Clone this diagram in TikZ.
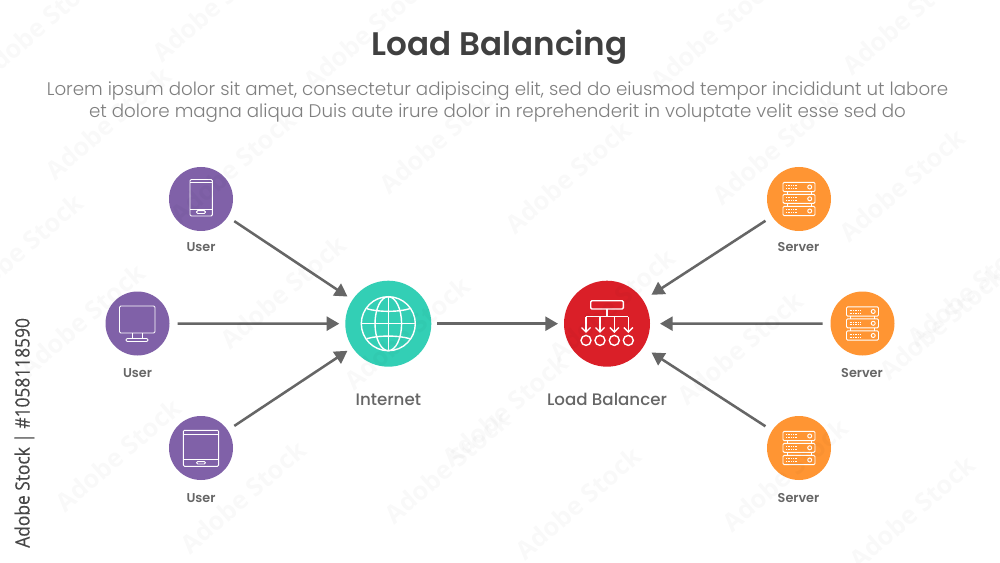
\documentclass[tikz,border=0pt]{standalone}
\usepackage{fontspec}
\setmainfont{Poppins}
\newfontfamily\poplight{Poppins Light}
\newfontfamily\popmed{Poppins Medium}
\newfontfamily\popsemi{Poppins SemiBold}
\newfontfamily\stockfont{Open Sans}
\newfontfamily\stockslim[FakeStretch=0.88,FakeBold=0.25]{Open Sans}
\usetikzlibrary{arrows.meta}
\definecolor{userpurple}{HTML}{8061A8}
\definecolor{netgreen}{HTML}{33CFB5}
\definecolor{lbred}{HTML}{DA1F28}
\definecolor{servorange}{HTML}{FF9533}
\definecolor{linegrey}{HTML}{666666}
\definecolor{bodygrey}{HTML}{7F7F7F}
\tikzset{
  x=0.75pt,y=-0.75pt,
  smallcirc/.style={circle,inner sep=0pt,minimum size=48pt,outer sep=6pt},
  bigcirc/.style={circle,inner sep=0pt,minimum size=64.5pt,outer sep=4.5pt},
  usercirc/.style={smallcirc,fill=userpurple},
  servcirc/.style={smallcirc,fill=servorange},
  smalllabel/.style={anchor=base,text=linegrey,inner sep=0pt,font=\popsemi\fontsize{9.6}{12}\selectfont},
  biglabel/.style={anchor=base,text=linegrey,inner sep=0pt,font=\popmed\fontsize{12.5}{15}\selectfont},
  bodytext/.style={anchor=base,text=bodygrey,inner sep=0pt,font=\poplight\fontsize{13.68}{17}\selectfont},
  flow/.style={draw=linegrey,line width=1.9pt,-{Triangle[length=9.5pt,width=10.5pt]}},
  flowback/.style={flow,shorten >=3pt},
  thinicon/.style={draw=white,line width=0.7pt,rounded corners=0.9pt},
  fatticon/.style={draw=white,line width=1.05pt,rounded corners=0.9pt},
  watermark/.style={text=black,opacity=0.025,rotate=41,inner sep=0pt,font=\stockfont\bfseries\fontsize{19}{23}\selectfont},
  phoneicon/.pic={
    \draw[thinicon] (-11,-19.5) rectangle (11.3,17);
    \draw[thinicon] (-11,-16.5) -- (11.3,-16.5) (-11,10.5) -- (11.3,10.5);
    \draw[thinicon] (-4.5,11.7) rectangle (4.5,14.5);
  },
  monitoricon/.pic={
    \draw[thinicon] (-18,-17.5) rectangle (17.5,9.5);
    \draw[thinicon] (-5,9.5) -- (-5,15) (4.5,9.5) -- (4.5,15);
    \draw[thinicon] (-11.5,15) rectangle (10.5,18);
  },
  tableticon/.pic={
    \draw[thinicon] (-17.7,-17.7) rectangle (17.7,18.3);
    \draw[thinicon] (-17.7,-13.5) -- (17.7,-13.5) (-17.7,11.3) -- (17.7,11.3);
    \draw[thinicon] (-4.5,13.6) rectangle (4.5,16);
  },
  servericon/.pic={
    \foreach \yt/\yb in {-16.7/-7.3,-4.7/4.3,7.3/16.7}{
      \draw[thinicon] (-16,\yt) rectangle (16,\yb);
      \draw[thinicon] (10.7,{(\yt+\yb)/2}) circle[radius=2];
      \draw[white,line width=0.4pt,dash pattern=on 0.6pt off 0.7pt] (-13,{(\yt+\yb)/2-1.3}) -- (-1,{(\yt+\yb)/2-1.3}) (-13,{(\yt+\yb)/2+1.3}) -- (-1,{(\yt+\yb)/2+1.3});
    }
    \draw[thinicon] (-12,-7.3) -- (-12,-4.7) (12,-7.3) -- (12,-4.7) (-12,4.3) -- (-12,7.3) (12,4.3) -- (12,7.3);
  },
  globeicon/.pic={
    \draw[fatticon,rounded corners=0pt] (0,0) circle[radius=27];
    \draw[fatticon,rounded corners=0pt] (0,0) ellipse[x radius=13.3,y radius=27];
    \draw[fatticon,rounded corners=0pt] (0,-27) -- (0,27) (-27,0) -- (27,0);
    \draw[fatticon,rounded corners=0pt] (-21.5,-15) .. controls (-10,-11.5) and (10,-11.5) .. (21.5,-15);
    \draw[fatticon,rounded corners=0pt] (-21.5,15) .. controls (-10,11.5) and (10,11.5) .. (21.5,15);
  },
  lbicon/.pic={
    \draw[fatticon] (-16.3,-23) rectangle (16.3,-14.7);
    \draw[fatticon,rounded corners=0pt] (0,-14.7) -- (0,-7);
    \draw[fatticon,rounded corners=0pt] (-21,-7) -- (21.3,-7);
    \foreach \xa in {-21,-7,7.3,21.3}{
      \draw[fatticon,rounded corners=0pt] (\xa,-7) -- (\xa,8.3);
      \draw[fatticon,rounded corners=0pt] (\xa-4.5,3.8) -- (\xa,8.3) -- (\xa+4.5,3.8);
      \draw[fatticon,rounded corners=0pt] (\xa,16.7) circle[radius=5];
    }
  },
}
\begin{document}
\begin{tikzpicture}
\useasboundingbox (0,0) rectangle (1000,563);
\fill[white] (0,0) rectangle (1000,563);
% nodes
\node[usercirc] (u1) at (201,199) {};
\node[usercirc] (u2) at (137.5,323.5) {};
\node[usercirc] (u3) at (201,448) {};
\node[servcirc] (s1) at (799,199) {};
\node[servcirc] (s2) at (862.5,323.5) {};
\node[servcirc] (s3) at (799,448) {};
\node[bigcirc,fill=netgreen] (net) at (388.3,323.7) {};
\node[bigcirc,fill=lbred] (lb) at (607,323.7) {};
% icons
\pic at (u1) {phoneicon};
\pic at (u2) {monitoricon};
\pic at (u3) {tableticon};
\pic at (s1) {servericon};
\pic at (s2) {servericon};
\pic at (s3) {servericon};
\pic at (net) {globeicon};
\pic at (lb) {lbicon};
% connectors
\draw[flow] (u1) -- (net);
\draw[flow] (u2) -- (net);
\draw[flow] (u3) -- (net);
\draw[flow] (net) -- (lb);
\draw[flowback] (s1) -- (lb);
\draw[flowback] (s2) -- (lb);
\draw[flowback] (s3) -- (lb);
% labels
\node[smalllabel] (lu1) at (201,252) {User};
\node[smalllabel] (lu2) at (137.5,377.5) {User};
\node[smalllabel] (lu3) at (201,502) {User};
\node[smalllabel] (ls1) at (798.5,252) {Server};
\node[smalllabel] (ls2) at (862,377.5) {Server};
\node[smalllabel] (ls3) at (798.5,502) {Server};
\node[biglabel] (lnet) at (388.3,405.5) {Internet};
\node[biglabel] (llb) at (607,405.5) {Load Balancer};
% heading
\node[anchor=base,text=black!75,inner sep=0pt,font=\popsemi\fontsize{24.45}{30}\selectfont] (title) at (499.5,56) {Load Balancing};
\node[bodytext] (b1) at (497.5,96) {Lorem ipsum dolor sit amet, consectetur adipiscing elit, sed do eiusmod tempor incididunt ut labore};
\node[bodytext] (b2) at (497.5,118) {et dolore magna aliqua Duis aute irure dolor in reprehenderit in voluptate velit esse sed do};
\node[anchor=base west,rotate=90,text=black!72,inner sep=0pt,font=\stockslim\fontsize{14.8}{18}\selectfont] (stock) at (29.5,548) {Adobe Stock | \#1058118590};
% watermarks
\foreach \wx/\wy [count=\i] in {40/25,215/5,366/33,108/123,233/167,442/137,568/177,713/33,775/148,902/185,905/18,82/320,283/292,407/333,118/455,243/497,447/467,740/348,942/323,578/503,785/475,912/512,612/305,505/410,970/290,20/250}{
  \node[watermark] (wm\i) at (\wx,\wy) {Adobe Stock};
}
\end{tikzpicture}
\end{document}
